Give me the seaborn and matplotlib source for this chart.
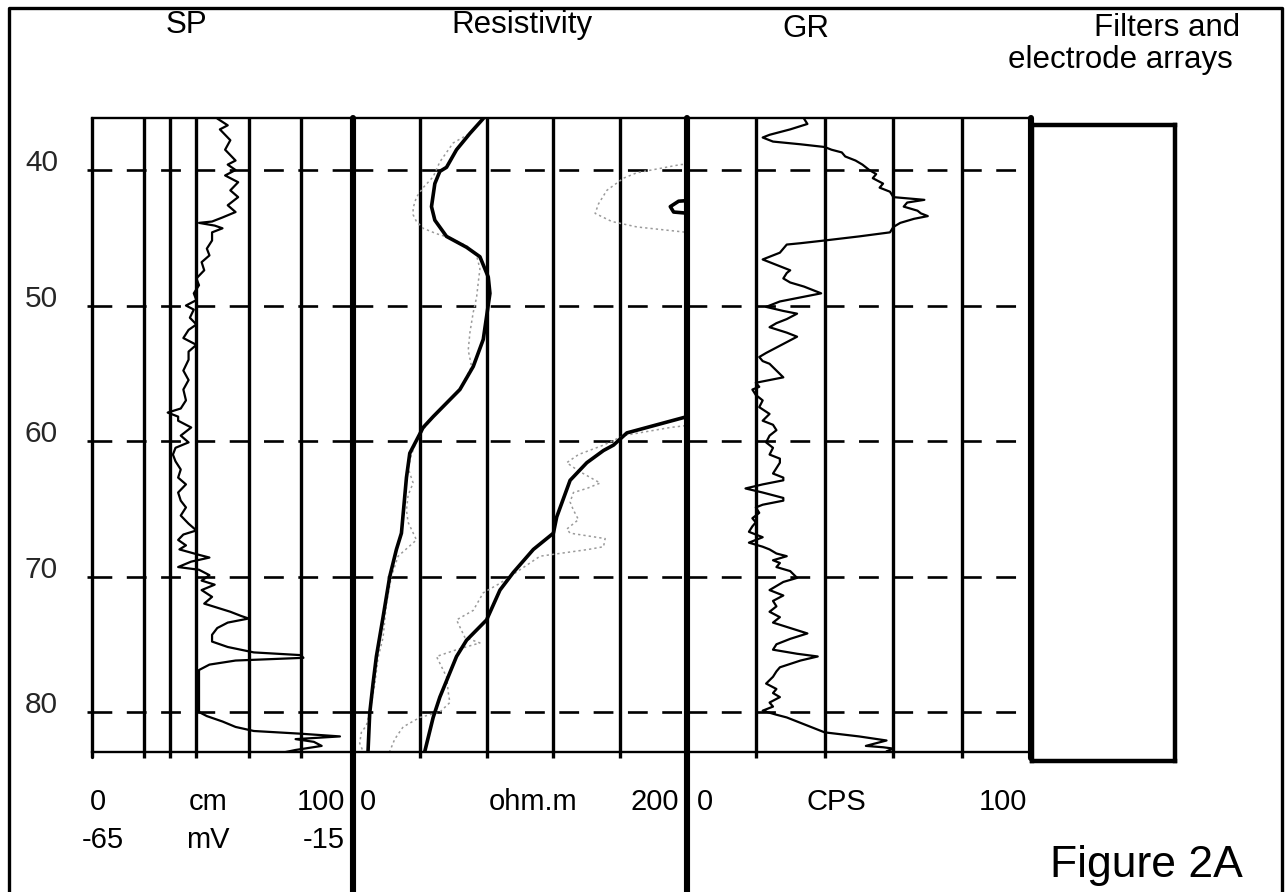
import matplotlib
matplotlib.use("Agg")
import matplotlib.pyplot as plt
import seaborn as sns
from matplotlib.transforms import ScaledTranslation
from matplotlib.lines import Line2D

sns.set_theme(style="white")
plt.rcParams['font.family'] = ['Liberation Sans', 'DejaVu Sans']

# ---------------- data ----------------
depth_ticks = [40, 50, 60, 70, 80]
depth_top, depth_bottom = 36.16, 82.95

track_titles = ["SP", "Resistivity", "GR"]
sp_grid = [0, 20, 30, 40, 60, 80, 100]
res_grid = [0, 40, 80, 120, 160, 200]
gr_grid = [0, 20, 40, 60, 80, 100]

# SP log (cm scale 0-100 ; -65 .. -15 mV)
sp_depth = [36.2, 36.7, 37.0, 37.8, 38.5, 39.3, 39.6, 40.0, 40.4, 40.9, 41.5, 42.0, 42.6, 43.1, 43.5,
            43.8, 43.9, 44.1, 44.3, 44.6, 45.2, 45.8, 46.3, 46.8, 47.4, 48.0, 48.5, 49.1, 49.6, 50.0,
            50.3, 50.9, 51.4, 51.8, 52.4, 52.9, 53.4, 54.0, 54.8, 55.5, 56.2, 57.0, 57.6, 57.9, 58.2,
            58.5, 59.0, 59.6, 60.1, 60.5, 61.0, 61.5, 62.1, 62.7, 63.2, 63.8, 64.4, 64.9, 65.5, 66.1,
            66.6, 66.9, 67.3, 67.7, 68.0, 68.4, 68.6, 68.9, 69.3, 69.5, 69.9, 70.3, 70.6, 71.0, 71.5,
            72.0, 72.3, 72.6, 72.9, 73.1, 73.4, 73.8, 74.3, 74.8, 75.2, 75.6, 75.8, 76.0, 76.2, 76.5,
            76.9, 78.4, 80.0, 80.3, 80.7, 81.1, 81.4, 81.6, 81.8, 82.0, 82.2, 82.5, 82.8, 83.2]
sp_value = [48, 52, 49, 53, 51, 55, 52, 55, 51, 56, 53, 56, 52, 55, 50,
            46, 41, 47, 50, 46, 46, 44, 45, 42, 43, 40, 41, 39, 40, 36,
            39, 37.5, 40, 37, 35, 40, 37, 37, 35, 37, 35, 36, 34, 29, 33,
            33, 38, 34, 37, 32, 31, 32, 34, 33, 36, 33, 34, 36, 34, 37,
            40, 35, 33, 36, 33.5, 41, 45, 38, 33, 41, 45, 42, 47, 42, 46,
            43, 48, 53, 57, 60, 52, 48, 46, 46, 52, 62, 80, 81, 55, 45,
            41, 41, 41, 44, 50, 55, 62, 80, 95, 78, 85, 88, 78, 68]

# Resistivity (ohm.m 0-200), two tools: solid = long normal, dotted = short normal
res_a_depth = [36.2, 37.3, 38.5, 39.8, 40.1, 41.0, 42.7, 43.7, 44.9, 45.7, 46.4, 47.9, 49.1, 50.8,
               52.5, 54.5, 56.2, 57.2, 58.2, 59.0, 60.9, 62.7, 66.8, 68.0, 70.0, 73.0, 75.9, 77.9,
               80.1, 82.9]
res_a_value = [78, 70, 62, 56, 52, 49, 47, 49, 56, 68, 76, 81, 82, 80,
               78, 72, 64, 56, 48, 42, 34, 32, 29, 26, 22, 18, 14, 12,
               10, 9]
res_b_depth = [36.2, 42.0, 42.3, 42.7, 43.1, 43.5, 58.0, 58.2, 59.4, 60.3, 60.7, 61.6, 62.9, 65.6,
               66.8, 68.0, 69.7, 71.0, 73.2, 74.7, 75.9, 78.9, 80.4, 82.9]
res_b_value = [230, 230, 195, 190, 192, 230, 230, 200, 164, 156, 150, 140, 130, 122,
               120, 108, 96, 88, 80, 68, 62, 52, 48, 43]
res_c_depth = [36.2, 37.3, 38.0, 38.7, 39.4, 40.5, 41.3, 42.0, 42.8, 43.3, 43.8, 44.3, 44.7, 45.0,
               45.6, 46.3, 47.3, 48.3, 49.4, 50.5, 52.0, 53.3, 54.5, 56.2, 57.2, 58.2, 59.0, 60.0,
               61.0, 62.0, 63.1, 64.0, 65.1, 66.0, 67.3, 68.5, 70.0, 72.0, 74.5, 76.0, 78.0, 80.0,
               81.0, 81.5, 82.3, 82.9]
res_c_value = [78, 70, 60, 56, 52, 48, 42, 38, 36, 36, 38, 42, 50, 58,
               68, 74, 76, 75, 74, 72, 70, 69, 71, 64, 56, 48, 43, 38,
               35, 33, 36, 33, 32, 33, 38, 27, 23, 20, 18, 15, 13, 10,
               8, 5, 4, 6]
res_d_depth = [36.2, 39.3, 39.6, 40.2, 40.6, 41.5, 42.5, 43.2, 43.8, 44.2, 44.6, 45.0, 58.4, 59.0,
               59.6, 60.3, 61.0, 61.6, 62.2, 63.1, 63.5, 63.8, 64.5, 65.1, 65.8, 66.5, 66.8, 67.2,
               67.8, 68.0, 68.5, 69.5, 70.5, 71.2, 72.5, 73.2, 74.5, 74.9, 75.4, 75.9, 76.4, 77.4,
               78.5, 79.3, 80.0, 80.4, 81.1, 82.0, 82.9]
res_d_value = [230, 230, 196, 170, 162, 152, 147, 145, 155, 170, 200, 230, 230, 190,
               162, 150, 135, 128, 135, 148, 140, 132, 130, 132, 135, 128, 130, 151,
               150, 141, 112, 100, 88, 78, 72, 62, 67, 76, 62, 50, 52, 56,
               57, 58, 52, 40, 30, 25, 22]

# GR (CPS 0-100)
gr_depth = [36.2, 36.6, 37.0, 37.4, 37.6, 37.9, 38.1, 38.3, 38.5, 38.7, 39.0, 39.3, 39.6, 40.0, 40.3,
            40.6, 41.0, 41.3, 41.6, 42.0, 42.2, 42.4, 42.7, 43.0, 43.2, 43.4, 43.6, 43.9, 44.2, 44.6,
            44.9, 45.2, 45.4, 45.5, 45.8, 46.1, 46.4, 46.6, 46.9, 47.1, 47.4, 47.6, 48.0, 48.3, 48.6,
            48.9, 49.1, 49.4, 49.7, 50.1, 50.4, 50.6, 51.0, 51.3, 51.6, 52.0, 52.3, 52.7, 53.1, 53.5,
            53.8, 54.1, 54.3, 54.8, 55.3, 55.5, 55.7, 56.0, 56.2, 56.6, 57.0, 57.5, 58.0, 58.5, 58.8,
            59.2, 59.6, 60.1, 60.5, 61.0, 61.3, 61.6, 62.0, 62.4, 62.7, 62.9, 63.2, 63.5, 63.8, 64.2,
            64.4, 64.7, 64.9, 65.3, 65.7, 66.0, 66.3, 66.7, 67.1, 67.5, 67.8, 68.0, 68.3, 68.5, 68.8,
            69.0, 69.3, 69.6, 70.1, 70.4, 70.7, 71.0, 71.4, 71.8, 72.2, 72.6, 73.0, 73.4, 73.8, 74.2,
            74.6, 75.0, 75.4, 75.7, 75.9, 76.2, 76.7, 77.0, 77.4, 77.9, 78.3, 78.6, 78.9, 79.3, 79.6,
            79.9, 80.2, 80.4, 80.7, 81.0, 81.3, 81.5, 81.8, 82.1, 82.3, 82.5, 82.6, 82.7, 82.9, 83.0]
gr_value = [34, 35, 30, 24, 22, 25, 33, 40, 42, 45, 46, 49, 51, 53, 55,
            54, 57, 56, 59, 60, 69, 64, 63, 67, 68, 70, 66, 62, 60, 59,
            50, 40, 33, 29, 28, 27, 24, 22, 25, 27, 30, 29, 28, 30, 34,
            37, 39, 33, 27, 23, 28, 32, 29, 26, 24, 29, 32, 29, 26, 23,
            21, 22, 24, 26, 28, 24, 20, 21, 19, 20, 22, 21, 24, 22, 25,
            26, 24, 23, 25, 24, 27, 27, 26, 25, 28, 28, 22, 17, 22, 28,
            28, 22, 20, 21, 19, 20, 19, 18, 22, 18, 22, 24, 26, 29, 25,
            27, 26, 30, 32, 28, 26, 24, 28, 25, 26, 24, 27, 25, 30, 35,
            30, 26, 25, 32, 38, 33, 27, 26, 25, 23, 26, 25, 27, 24, 25,
            22, 26, 29, 32, 35, 38, 40, 50, 58, 55, 52, 57, 60, 58, 59]

# scale labels under each track
sp_labels_top = ["0", "cm", "100"]
sp_labels_bottom = ["-65", "mV", "-15"]
res_labels = ["0", "ohm.m", "200"]
gr_labels = ["0", "CPS", "100"]

# ---------------- layout ----------------
W, H = 1288, 892
fig = plt.figure(figsize=(W / 100, H / 100), dpi=100)
fig.patch.set_facecolor("white")

TOP, BOT = 118, 752


def px_axes(x0, x1, ytop, ybot):
    return fig.add_axes([x0 / W, 1 - ybot / H, (x1 - x0) / W, (ybot - ytop) / H])


ax_sp = px_axes(92, 353, TOP, BOT)
ax_res = px_axes(353, 687, TOP, BOT)
ax_gr = px_axes(687, 1031, TOP, BOT)
ax_box = px_axes(1032, 1175, 125, 761)

LW_GRID = 2.4
LW_THICK = 4.4
ext_bottom = (H - BOT) / (BOT - TOP)

# curves
sns.lineplot(x=sp_value, y=sp_depth, sort=False, estimator=None, color="black", lw=1.6, ax=ax_sp)
sns.lineplot(x=res_c_value, y=res_c_depth, sort=False, estimator=None, color="#9a9a9a", lw=1.1,
             linestyle=(0, (1.5, 2.0)), ax=ax_res)
sns.lineplot(x=res_d_value, y=res_d_depth, sort=False, estimator=None, color="#9a9a9a", lw=1.1,
             linestyle=(0, (1.5, 2.0)), ax=ax_res)
sns.lineplot(x=res_a_value, y=res_a_depth, sort=False, estimator=None, color="black", lw=2.6, ax=ax_res)
sns.lineplot(x=res_b_value, y=res_b_depth, sort=False, estimator=None, color="black", lw=2.6, ax=ax_res)
sns.lineplot(x=gr_value, y=gr_depth, sort=False, estimator=None, color="black", lw=1.6, ax=ax_gr)

for ax, grid, xmax in [(ax_sp, sp_grid, 100), (ax_res, res_grid, 200), (ax_gr, gr_grid, 100)]:
    ax.set_facecolor("none")
    ax.set_xlim(0, xmax)
    ax.set_ylim(depth_bottom, depth_top)
    ax.set_xlabel("")
    ax.set_ylabel("")
    for s in ["left", "right"]:
        ax.spines[s].set_visible(False)
    for s in ["top", "bottom"]:
        ax.spines[s].set_visible(True)
        ax.spines[s].set_color("black")
        ax.spines[s].set_linewidth(1.7)
    inner = grid[1:-1]
    for v in inner:
        ax.axvline(v, color="black", lw=LW_GRID, zorder=1)
    ax.set_xticks(inner)
    ax.set_xticklabels([])
    ax.tick_params(axis="x", which="both", bottom=True, direction="out", length=4.5,
                   width=LW_GRID, color="black")
    for d in depth_ticks:
        ax.axhline(d, color="black", lw=1.9, ls=(0, (7.5, 5.5)), zorder=1)

# SP left edge and depth labels
ax_sp.axvline(0, color="black", lw=LW_GRID, zorder=2, ymin=-0.008, ymax=1, clip_on=False)
ax_sp.set_yticks(depth_ticks)
ax_sp.set_yticklabels([str(d) for d in depth_ticks], fontsize=21.5)
ax_sp.tick_params(axis="y", left=True, direction="out", length=3.5, width=1.9, color="black", pad=21)
for lab in ax_sp.get_yticklabels():
    lab.set_transform(lab.get_transform() + ScaledTranslation(0, 10 / 100, fig.dpi_scale_trans))
ax_res.set_yticks([])
ax_gr.set_yticks([])

# thick separators
ax_sp.axvline(100, color="black", lw=LW_THICK, ymin=-ext_bottom, ymax=1, clip_on=False, zorder=3)
ax_res.axvline(200, color="black", lw=LW_THICK, ymin=-ext_bottom, ymax=1, clip_on=False, zorder=3)
ax_gr.axvline(100, color="black", lw=LW_THICK, ymin=-0.01, ymax=1, clip_on=False, zorder=3)

# filters box
ax_box.set_xticks([])
ax_box.set_yticks([])
ax_box.set_facecolor("white")
for s in ax_box.spines.values():
    s.set_visible(True)
    s.set_color("black")
    s.set_linewidth(3.2)

# figure border (left, top, right)
fig.add_artist(Line2D([9 / W, 9 / W, 1282 / W, 1282 / W], [0, 1 - 8 / H, 1 - 8 / H, 0],
                      transform=fig.transFigure, color="black", lw=2.4))


def ftext(x, y, s, size, ha="center"):
    fig.text(x / W, 1 - y / H, s, ha=ha, va="center", fontsize=size, color="black")


# titles
ftext(186, 25, track_titles[0], 22.5)
ftext(522, 25, track_titles[1], 22.5)
ftext(806, 29, track_titles[2], 22.5)
ftext(1167, 28, "Filters and", 22.5)
ftext(1120, 60, "electrode arrays", 22.5)

# scale labels
row1, row2 = 802, 840
for x, s in zip([98, 208, 321], sp_labels_top):
    ftext(x, row1, s, 21)
for x, s in zip([103, 208, 324], sp_labels_bottom):
    ftext(x, row2, s, 21)
for x, s in zip([368, 533, 655], res_labels):
    ftext(x, row1, s, 21)
for x, s in zip([705, 836, 1003], gr_labels):
    ftext(x, row1, s, 21)

ftext(1146, 866, "Figure 2A", 32)

fig.savefig("out.png", dpi=100, facecolor="white")
